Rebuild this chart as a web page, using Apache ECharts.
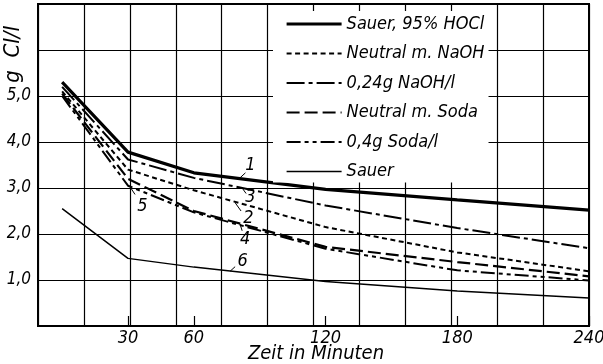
<!DOCTYPE html>
<html>
<head>
<meta charset="utf-8">
<script src="https://cdn.jsdelivr.net/npm/echarts@6/dist/echarts.min.js"></script>
<style>
  html, body { margin: 0; padding: 0; background: #fff; }
  #chart { width: 603px; height: 364px; }
</style>
</head>
<body>
<div id="chart"></div>
<script>
// Messzeiten in Minuten
var times = [0, 30, 60, 120, 180, 240];
// g Cl/l
var sauerHOCl   = [5.3, 3.78, 3.33, 2.97, 2.74, 2.52];
var neutralNaOH = [5.1, 3.4, 2.95, 2.15, 1.6, 1.19];
var naoh024     = [5.2, 3.62, 3.22, 2.62, 2.13, 1.69];
var neutralSoda = [5.05, 3.2, 2.5, 1.72, 1.39, 1.08];
var soda04      = [5.0, 3.05, 2.47, 1.68, 1.21, 0.99];
var sauer       = [2.55, 1.47, 1.28, 0.97, 0.76, 0.61];

var names = ['Sauer, 95% HOCl', 'Neutral m. NaOH', '0,24g NaOH/l', 'Neutral m. Soda', '0,4g Soda/l', 'Sauer'];
var xTicks = [30, 60, 120, 180, 240];
var yTicks = [1, 2, 3, 4, 5];

// Kurvennummern (1..6) mit Hinweisstrich
var curveNo   = ['1', '2', '3', '4', '5', '6'];
var noAt      = [[85.8, 3.5], [84.8, 2.33], [85.8, 2.8], [83.4, 1.88], [36.6, 2.6], [82.2, 1.4]];
var leaderA   = [[81, 3.22], [78.8, 2.68], [82, 3.0], [81, 2.22], [31, 3.02], [76.5, 1.19]];
var leaderB   = [[83.5, 3.33], [81.5, 2.5], [83.8, 2.88], [82, 2.07], [33.2, 2.86], [78.8, 1.29]];

var font = "'Liberation Sans Narrow', 'DejaVu Sans Condensed', 'Liberation Sans', sans-serif";

function pairs(vals) {
  return times.map(function (t, i) { return [t, vals[i]]; });
}

var styles = [
  { width: 3.2, type: 'solid' },
  { width: 2, type: [5, 3.5] },
  { width: 2, type: [18, 4, 4, 4] },
  { width: 2.2, type: [13, 5] },
  { width: 2, type: [14, 4, 4, 4, 4, 4] },
  { width: 1.5, type: 'solid' }
];
var allData = [sauerHOCl, neutralNaOH, naoh024, neutralSoda, soda04, sauer];

var series = allData.map(function (vals, i) {
  return {
    name: names[i],
    type: 'line',
    data: pairs(vals),
    symbol: 'none',
    lineStyle: { color: '#000', width: styles[i].width, type: styles[i].type },
    itemStyle: { color: '#000' },
    markLine: {
      silent: true,
      symbol: ['none', 'none'],
      label: { show: false },
      lineStyle: { color: '#000', width: 1, type: 'solid' },
      data: [[{ coord: leaderA[i] }, { coord: leaderB[i] }]]
    },
    markPoint: {
      silent: true,
      symbol: 'circle',
      symbolSize: 1,
      itemStyle: { color: 'rgba(0,0,0,0)' },
      label: {
        show: true, position: 'inside', formatter: curveNo[i],
        color: '#000', fontSize: 18, fontStyle: 'italic', fontFamily: font
      },
      data: [{ coord: noAt[i] }]
    }
  };
});

var chart = echarts.init(document.getElementById('chart'));
chart.setOption({
  animation: false,
  backgroundColor: '#fff',
  grid: {
    left: 38, right: 14, top: 4, bottom: 38,
    outerBoundsMode: 'none',
    show: true, borderColor: '#000', borderWidth: 2
  },
  legend: {
    orient: 'vertical',
    left: 273, top: 11,
    padding: [4, 4, 2, 12],
    backgroundColor: '#fff',
    itemWidth: 55, itemHeight: 18, itemGap: 11.5,
    itemStyle: { opacity: 0 },
    lineStyle: { width: 'inherit' },
    textStyle: { color: '#000', fontSize: 18, fontStyle: 'italic', fontFamily: font },
    data: names
  },
  xAxis: [{
    type: 'value', min: -11, max: 240,
    axisLine: { show: true, onZero: false, lineStyle: { color: '#000', width: 2 } },
    axisTick: { show: true, inside: true, length: 10, customValues: xTicks, lineStyle: { color: '#000', width: 1.2 } },
    axisLabel: { customValues: xTicks, color: '#000', fontSize: 18, fontStyle: 'italic', fontFamily: font, margin: 3 },
    splitLine: { show: false }
  }, {
    type: 'value', min: 0, max: 12, interval: 1,
    position: 'bottom',
    axisLine: { show: false }, axisTick: { show: false }, axisLabel: { show: false },
    splitLine: { show: true, lineStyle: { color: '#000', width: 1.2 } }
  }],
  yAxis: {
    type: 'value', min: 0, max: 7, interval: 1,
    axisLine: { show: true, onZero: false, lineStyle: { color: '#000', width: 2 } },
    axisTick: { show: false },
    axisLabel: {
      color: '#000', fontSize: 17, fontStyle: 'italic', fontFamily: font, margin: 7,
      formatter: function (v) { return yTicks.indexOf(v) >= 0 ? v.toFixed(1).replace('.', ',') : ''; }
    },
    splitLine: { show: true, lineStyle: { color: '#000', width: 1.2 } }
  },
  graphic: [{
    type: 'text', left: 2, top: 26, rotation: Math.PI / 2,
    style: { text: 'g  Cl/l', fill: '#000', fontSize: 22, fontStyle: 'italic', fontFamily: font }
  }, {
    type: 'text', x: 316, y: 354,
    style: {
      text: 'Zeit in Minuten', fill: '#000', fontSize: 20, fontStyle: 'italic', fontFamily: font,
      align: 'center', verticalAlign: 'middle'
    }
  }],
  series: series
});
</script>
</body>
</html>
